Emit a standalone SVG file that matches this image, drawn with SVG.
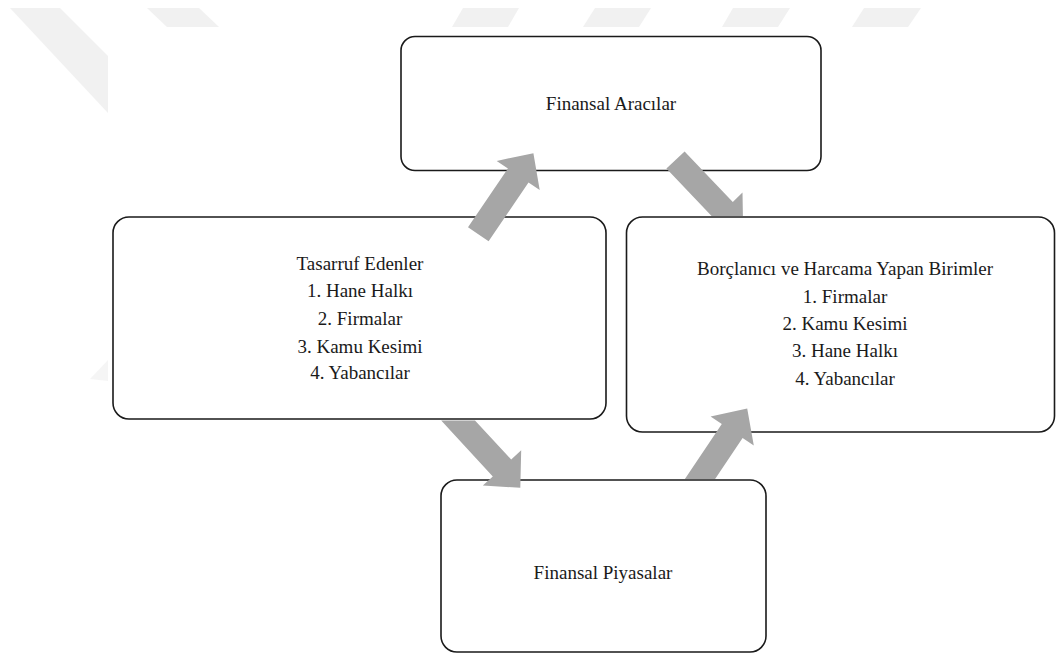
<svg xmlns="http://www.w3.org/2000/svg" width="1057" height="661" viewBox="0 0 1057 661">
  <style>
    .box { fill: #ffffff; stroke: #1a1a1a; stroke-width: 1.6; }
    .lbl { font-family: "Liberation Serif", "Times New Roman", serif; font-size: 19px; fill: #1a1a1a; text-anchor: middle; }
    .arrow { fill: #a6a6a6; stroke: none; }
    .wm { fill: #f1f1f1; stroke: none; }
  </style>
  <rect x="0" y="0" width="1057" height="661" fill="#ffffff"/>
  <g id="watermark">
    <polygon class="wm" points="10,8 60,8 108,56 108,113"/>
    <polygon class="wm" points="147,8 199,8 219,27 167,27"/>
    <polygon class="wm" points="463,8 519,8 508,27 452,27"/>
    <polygon class="wm" points="595,8 651,8 639,27 583,27"/>
    <polygon class="wm" points="733,8 790,8 778,27 722,27"/>
    <polygon class="wm" points="864,8 921,8 908,27 852,27"/>
    <polygon class="wm" points="108,360 108,381 90,379" fill-opacity="0.7"/>
  </g>
  <g id="node-finansal-aracilar">
    <rect class="box" x="401" y="36.5" width="420" height="134" rx="14"/>
    <text class="lbl" x="611" y="110">Finansal Aracılar</text>
  </g>
  <g id="node-tasarruf-edenler">
    <rect class="box" x="113" y="217" width="493" height="202" rx="16"/>
    <text class="lbl" x="360" y="270">Tasarruf Edenler</text>
    <text class="lbl" x="360" y="297">1. Hane Halkı</text>
    <text class="lbl" x="360" y="325">2. Firmalar</text>
    <text class="lbl" x="360" y="352.5">3. Kamu Kesimi</text>
    <text class="lbl" x="360" y="378.5">4. Yabancılar</text>
  </g>
  <g id="node-borclanici">
    <rect class="box" x="626.5" y="217" width="428" height="215" rx="16"/>
    <text class="lbl" x="845" y="275">Borçlanıcı ve Harcama Yapan Birimler</text>
    <text class="lbl" x="845" y="303">1. Firmalar</text>
    <text class="lbl" x="845" y="330">2. Kamu Kesimi</text>
    <text class="lbl" x="845" y="357">3. Hane Halkı</text>
    <text class="lbl" x="845" y="385">4. Yabancılar</text>
  </g>
  <g id="node-finansal-piyasalar">
    <rect class="box" x="441" y="480" width="325" height="172" rx="16"/>
    <text class="lbl" x="603" y="579">Finansal Piyasalar</text>
  </g>
  <g id="connectors">
    <polygon class="arrow" points="468.0,227.2 507.9,168.5 496.7,160.9 533.4,153.2 539.7,190.1 528.5,182.5 488.6,241.2"/>
    <polygon class="arrow" points="666.4,168.6 711.6,216 742.9,216 742.5,192.5 732.8,202 684.6,151.4"/>
    <polygon class="arrow" points="441.2,420.5 492.8,476.4 482.8,485.5 520.3,487.8 521.2,450.3 511.2,459.5 475.0,420.5"/>
    <polygon class="arrow" points="684.9,479 721.8,423.9 710.6,416.4 747.2,408.5 753.8,445.4 742.6,437.9 715.1,479"/>
  </g>
</svg>
